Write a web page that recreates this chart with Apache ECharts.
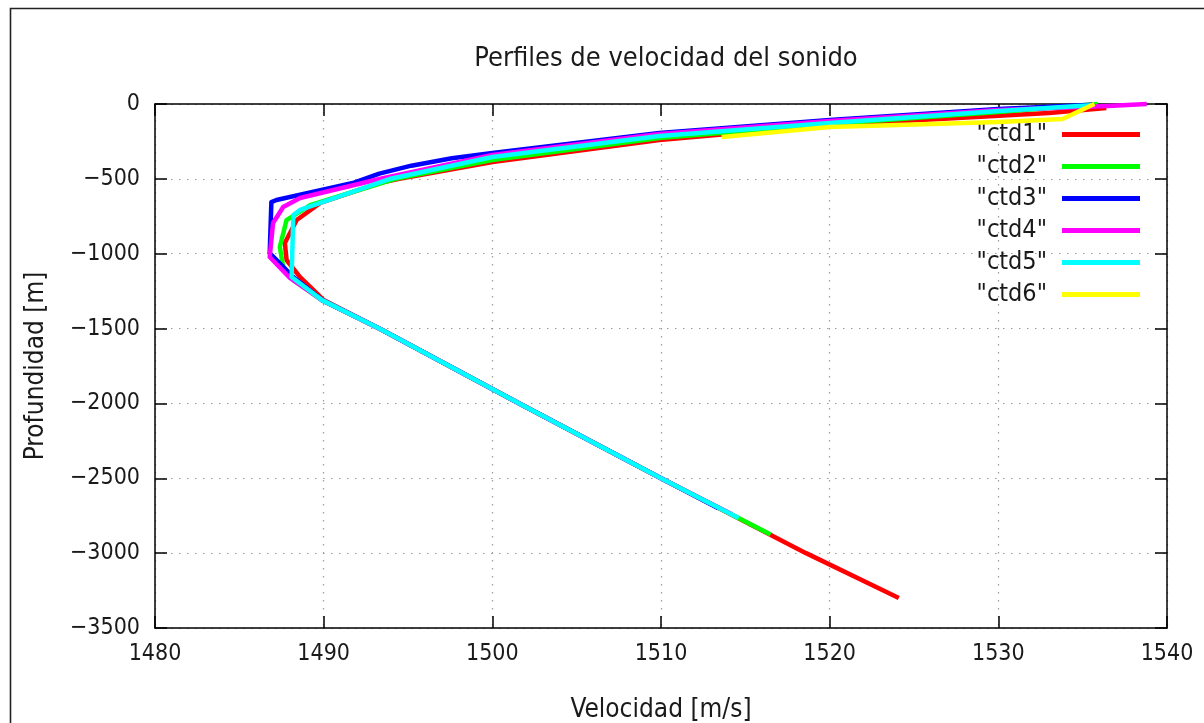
<!DOCTYPE html>
<html>
<head>
<meta charset="utf-8">
<title>Perfiles de velocidad del sonido</title>
<script src="https://cdn.jsdelivr.net/npm/echarts@6/dist/echarts.min.js"></script>
<style>
  html, body { margin: 0; padding: 0; background: #fff; }
  #chart { width: 1204px; height: 723px; }
</style>
</head>
<body>
<div id="chart"></div>
<script>
// Sound-speed profiles, velocity [m/s] against depth [m], one cast per series
const seriesNames = ['ctd1', 'ctd2', 'ctd3', 'ctd4', 'ctd5', 'ctd6'];
const seriesColors = ['#ff0000', '#00ff00', '#0000ff', '#ff00ff', '#00ffff', '#ffff00'];

const ctd1Vel   = [1536.4, 1533.0, 1520.0, 1509.9, 1500.0, 1494.4, 1493.3, 1489.8, 1488.4, 1487.7, 1487.8, 1488.6, 1489.2, 1490.0, 1493.3, 1501.6, 1510.0, 1518.6, 1524.1];
const ctd1Depth = [-27, -60, -140, -240, -387, -501, -528, -661, -775, -929, -1042, -1156, -1222, -1310, -1500, -2000, -2500, -3000, -3300];

const ctd2Vel   = [1535.9, 1530.0, 1520.0, 1509.9, 1500.0, 1494.2, 1489.2, 1487.8, 1487.4, 1487.6, 1488.2, 1489.9, 1493.3, 1501.6, 1510.0, 1516.5];
const ctd2Depth = [0, -53, -134, -227, -374, -501, -675, -775, -955, -1089, -1176, -1310, -1500, -2000, -2500, -2875];

const ctd3Vel   = [1535.6, 1530.0, 1520.0, 1509.9, 1500.0, 1497.6, 1495.2, 1493.3, 1491.8, 1487.2, 1486.9, 1486.8, 1488.2, 1489.9, 1493.3, 1501.6, 1510.0, 1513.4];
const ctd3Depth = [-5, -33, -107, -194, -327, -362, -412, -465, -525, -641, -655, -995, -1156, -1310, -1500, -2000, -2500, -2700];

const ctd4Vel   = [1538.8, 1536.5, 1530.0, 1520.0, 1509.9, 1500.0, 1493.3, 1488.6, 1487.6, 1487.0, 1486.8, 1488.0, 1489.9, 1493.3, 1501.6, 1510.0, 1514.2];
const ctd4Depth = [0, -13, -40, -114, -200, -340, -501, -628, -688, -795, -1022, -1162, -1310, -1500, -2000, -2500, -2740];

const ctd5Vel   = [1535.5, 1530.0, 1520.0, 1509.9, 1500.0, 1493.9, 1488.6, 1488.2, 1488.1, 1489.9, 1493.3, 1501.6, 1510.0, 1514.6];
const ctd5Depth = [-8, -47, -127, -214, -354, -501, -708, -742, -1156, -1310, -1500, -2000, -2500, -2765];

const ctd6Vel   = [1535.7, 1533.8, 1530.0, 1520.0, 1513.6];
const ctd6Depth = [0, -100, -120, -154, -220];

const velTicks = { min: 1480, max: 1540, step: 10 };
const depthTicks = { min: -3500, max: 0, step: 500 };

const profiles = [
  [ctd1Vel, ctd1Depth], [ctd2Vel, ctd2Depth], [ctd3Vel, ctd3Depth],
  [ctd4Vel, ctd4Depth], [ctd5Vel, ctd5Depth], [ctd6Vel, ctd6Depth]
];

const FONT = '"DejaVu Sans Condensed", "DejaVu Sans", sans-serif';
const TEXT = '#1a1a1a';
// plain integers, with a true minus sign for negative depths
const plainNumber = v => (v < 0 ? '\u2212' + Math.abs(v) : String(v));

const axisLine = { show: true, onZero: false, lineStyle: { color: '#000', width: 1.5 } };
const tick = { show: true, inside: true, length: 12, lineStyle: { color: '#000', width: 1.5 } };
const grid = { show: true, lineStyle: { color: '#9a9a9a', width: 1.2, type: [1.5, 6.5] } };

const chart = echarts.init(document.getElementById('chart'), null, { renderer: 'canvas' });
chart.setOption({
  animation: false,
  backgroundColor: '#fff',
  textStyle: { fontFamily: FONT },
  title: {
    text: 'Perfiles de velocidad del sonido',
    left: 661, top: 40, textAlign: 'center',
    textStyle: { fontFamily: FONT, fontSize: 27, fontWeight: 'normal', color: TEXT }
  },
  grid: { left: 155, right: 37, top: 104, bottom: 95, containLabel: false, outerBoundsMode: 'none' },
  legend: {
    orient: 'vertical', right: 59, top: 117, align: 'right',
    icon: 'rect', itemWidth: 78, itemHeight: 5, itemGap: 7,
    selectedMode: false,
    formatter: n => '"' + n + '"',
    textStyle: { fontFamily: FONT, fontSize: 25, lineHeight: 24, color: TEXT, padding: [0, 10, 0, 0] },
    data: seriesNames
  },
  xAxis: [
    {
      type: 'value', position: 'bottom',
      min: velTicks.min, max: velTicks.max, interval: velTicks.step,
      name: 'Velocidad [m/s]', nameLocation: 'middle', nameGap: 69,
      nameTextStyle: { fontFamily: FONT, fontSize: 26, color: TEXT },
      axisLine, axisTick: tick,
      axisLabel: { fontFamily: FONT, fontSize: 23, color: TEXT, margin: 15, formatter: plainNumber },
      splitLine: grid
    },
    {
      type: 'value', position: 'top',
      min: velTicks.min, max: velTicks.max, interval: velTicks.step,
      axisLine, axisTick: tick, axisLabel: { show: false }, splitLine: { show: false }
    }
  ],
  yAxis: [
    {
      type: 'value', position: 'left',
      min: depthTicks.min, max: depthTicks.max, interval: depthTicks.step,
      name: 'Profundidad [m]', nameLocation: 'middle', nameGap: 106,
      nameTextStyle: { fontFamily: FONT, fontSize: 26, color: TEXT },
      axisLine, axisTick: tick,
      axisLabel: { fontFamily: FONT, fontSize: 23, color: TEXT, margin: 15, formatter: plainNumber },
      splitLine: grid
    },
    {
      type: 'value', position: 'right',
      min: depthTicks.min, max: depthTicks.max, interval: depthTicks.step,
      axisLine, axisTick: tick, axisLabel: { show: false }, splitLine: { show: false }
    }
  ],
  graphic: [
    {
      type: 'polyline', silent: true,
      shape: { points: [[10.5, 723], [10.5, 8.5], [1204, 8.5]] },
      style: { stroke: '#222', lineWidth: 1.6, fill: null }
    }
  ],
  series: profiles.map(([vel, depth], i) => ({
    name: seriesNames[i],
    type: 'line',
    xAxisIndex: 0, yAxisIndex: 0,
    data: vel.map((v, k) => [v, depth[k]]),
    showSymbol: false, symbol: 'none',
    clip: false,
    color: seriesColors[i],
    lineStyle: { width: 4.5, color: seriesColors[i], join: 'round' },
    z: 2 + i
  }))
});
</script>
</body>
</html>
